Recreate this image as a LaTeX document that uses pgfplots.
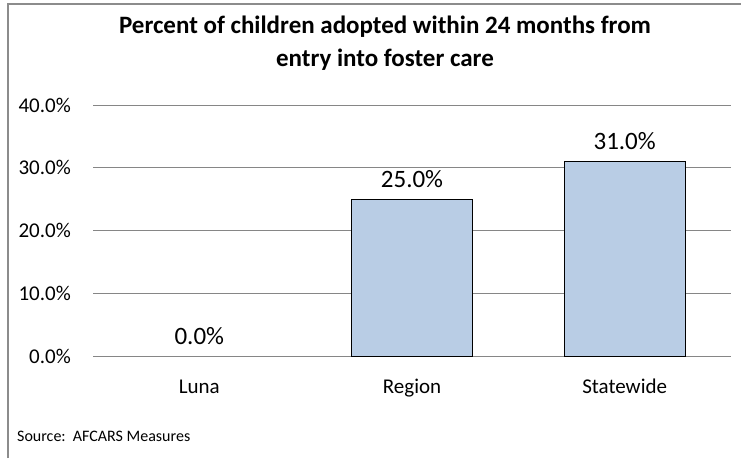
\documentclass[border=0pt]{standalone}
\usepackage{pgfplots}
\pgfplotsset{compat=1.18}
\usepackage{fontspec}
\setmainfont{Carlito}
\definecolor{barfill}{HTML}{B9CDE5}
\definecolor{gridc}{HTML}{868686}
\definecolor{framec}{HTML}{8C8C8C}
\begin{document}
\begin{tikzpicture}[x=1pt,y=1pt]
\useasboundingbox (0,0) rectangle (741,458);
\draw[framec, line width=1.2pt] (8,0) -- (8,454) -- (741,454);
\begin{axis}[
  at={(93pt,101.5pt)}, anchor=south west,
  scale only axis, width=638pt, height=251.5pt,
  xmin=-0.5, xmax=2.5, ymin=0, ymax=40,
  axis line style={draw=none},
  ymajorgrids, major grid style={gridc, line width=1pt},
  ytick={0,10,20,30,40},
  yticklabels={0.0\%,10.0\%,20.0\%,30.0\%,40.0\%},
  xtick={0,1,2},
  xticklabels={Luna,Region,Statewide},
  tick style={draw=none},
  yticklabel style={font=\fontsize{21}{24}\selectfont, anchor=east, inner sep=0pt, xshift=-22pt},
  xticklabel style={font=\fontsize{21}{24}\selectfont, anchor=base, inner sep=0pt, yshift=-33pt},
  ybar, bar width=121pt, bar shift=0pt,
  point meta=explicit symbolic,
  nodes near coords,
  every node near coord/.append style={font=\fontsize{25}{28}\selectfont, anchor=base, inner sep=0pt, yshift=12pt, text=black},
  clip=false,
]
\addplot[fill=none, draw=none] coordinates {(0,0)[0.0\%]};
\addplot[fill=barfill, draw=black, line width=0.9pt] coordinates {(1,25)[25.0\%] (2,31)[31.0\%]};
\end{axis}
\node[align=center, font=\fontsize{25}{33}\selectfont\bfseries] at (385,414.5) {Percent of children adopted within 24 months from\\entry into foster care};
\node[anchor=base west, inner sep=0pt, font=\fontsize{16}{19}\selectfont] at (17,17) {Source:\ \ AFCARS Measures};
\end{tikzpicture}
\end{document}
